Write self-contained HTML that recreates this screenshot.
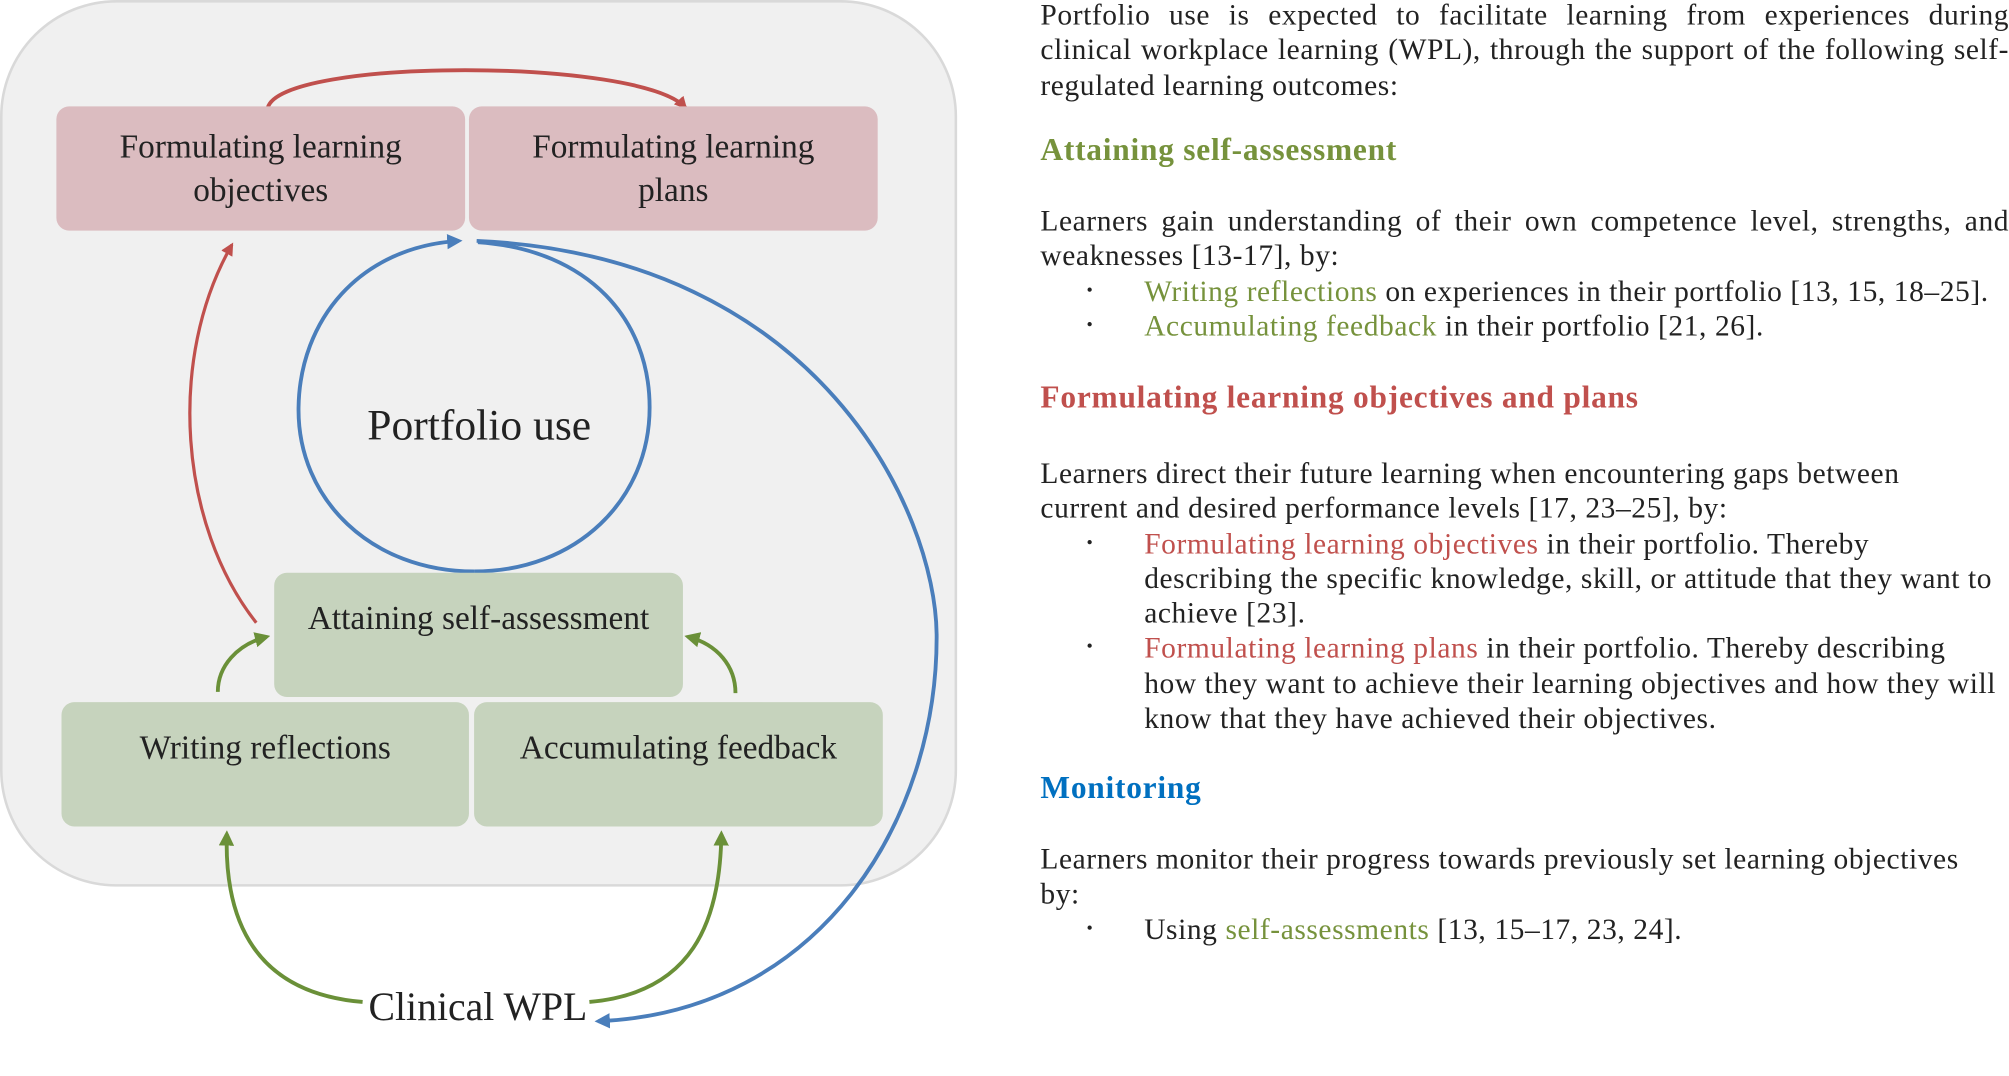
<!DOCTYPE html>
<html><head><meta charset="utf-8"><style>
html,body{margin:0;padding:0;background:#fff;width:2009px;height:1076px;overflow:hidden}
#w{position:absolute;left:0;top:0;width:1568px;height:840px;transform:scale(1.2813);transform-origin:0 0;font-family:"Liberation Serif",serif;color:#222}
.b{position:absolute;display:flex;align-items:center;justify-content:center;text-align:center;font-size:26px;line-height:34px;border-radius:10px}
.p{background:#dbbcc0}.g{background:#c6d3bd}
.t{position:absolute;left:812px;width:756px;font-size:23px;letter-spacing:0.45px;line-height:27.3px;white-space:nowrap}
.t div{height:27.3px}
.j{text-align:justify;text-align-last:justify}
h3{margin:0;font-size:24.5px;letter-spacing:0.6px;font-weight:bold}
.li{position:relative;padding-left:81px}
.li:before{content:"•";position:absolute;left:36px;font-size:14px}
.gr{color:#76923c}.rd{color:#c0504d}.bl{color:#0070c0}
</style></head><body><div id="w">
<svg width="1568" height="840" style="position:absolute;left:0;top:0">
<defs>
<marker id="ar" markerWidth="10" markerHeight="10" refX="8" refY="5" orient="auto" markerUnits="userSpaceOnUse"><path d="M0,0 L10,5 L0,10 Z" fill="#c0504d"/></marker>
<marker id="ab" markerWidth="12" markerHeight="12" refX="9" refY="6" orient="auto" markerUnits="userSpaceOnUse"><path d="M0,0 L12,6 L0,12 Z" fill="#4a7ebb"/></marker>
<marker id="ag" markerWidth="12" markerHeight="12" refX="9" refY="6" orient="auto" markerUnits="userSpaceOnUse"><path d="M0,0 L12,6 L0,12 Z" fill="#6a9038"/></marker>
</defs>
<rect x="1" y="1" width="745" height="690" rx="90" fill="#f0f0f0" stroke="#d9d9d9" stroke-width="2"/>
<path d="M209,84 C220,45 500,45 535,84" fill="none" stroke="#c0504d" stroke-width="3" marker-end="url(#ar)"/>
<path d="M200,486 C140,410 130,280 181,191" fill="none" stroke="#c0504d" stroke-width="2.5" marker-end="url(#ar)"/>
<path d="M370,446 C290,446 232,390 233,318 C234,250 280,193 358,188" fill="none" stroke="#4a7ebb" stroke-width="3" marker-end="url(#ab)"/>
<path d="M370,446 C450,446 507,390 507,318 C507,250 460,195 373,189" fill="none" stroke="#4a7ebb" stroke-width="3"/>
<path d="M372,188 C640,200 730,400 731,495 C732,640 640,790 467,797" fill="none" stroke="#4a7ebb" stroke-width="3" marker-end="url(#ab)"/>
<path d="M170,540 C170,520 185,503 208,497" fill="none" stroke="#6a9038" stroke-width="3" marker-end="url(#ag)"/>
<path d="M574,541 C574,520 560,503 537,497" fill="none" stroke="#6a9038" stroke-width="3" marker-end="url(#ag)"/>
<path d="M283,782 C200,775 175,720 177,651" fill="none" stroke="#6a9038" stroke-width="3" marker-end="url(#ag)"/>
<path d="M460,782 C540,775 562,720 563,651" fill="none" stroke="#6a9038" stroke-width="3" marker-end="url(#ag)"/>
</svg>
<div class="b p" style="left:44px;top:83px;width:319px;height:97px">Formulating learning<br>objectives</div>
<div class="b p" style="left:366px;top:83px;width:319px;height:97px">Formulating learning<br>plans</div>
<div class="b" style="left:240px;top:305px;width:268px;height:56px;font-size:34px">Portfolio use</div>
<div class="b g" style="left:214px;top:447px;width:319px;height:97px;align-items:flex-start;padding-top:19px;box-sizing:border-box">Attaining self-assessment</div>
<div class="b g" style="left:48px;top:548px;width:318px;height:97px;align-items:flex-start;padding-top:19px;box-sizing:border-box">Writing reflections</div>
<div class="b g" style="left:370px;top:548px;width:319px;height:97px;align-items:flex-start;padding-top:19px;box-sizing:border-box">Accumulating feedback</div>
<div class="b" style="left:273px;top:765px;width:200px;height:42px;font-size:31px">Clinical WPL</div>

<div class="t" style="top:-2px"><div class="j">Portfolio use is expected to facilitate learning from experiences during</div><div class="j">clinical workplace learning (WPL), through the support of the following self-</div><div>regulated learning outcomes:</div></div>
<div class="t gr" style="top:104px"><h3>Attaining self-assessment</h3></div>
<div class="t" style="top:159px"><div class="j">Learners gain understanding of their own competence level, strengths, and</div><div>weaknesses [13-17], by:</div>
<div class="li"><span class="gr">Writing reflections</span> on experiences in their portfolio [13, 15, 18–25].</div>
<div class="li"><span class="gr">Accumulating feedback</span> in their portfolio [21, 26].</div></div>
<div class="t rd" style="top:297px"><h3>Formulating learning objectives and plans</h3></div>
<div class="t" style="top:356px"><div>Learners direct their future learning when encountering gaps between</div><div>current and desired performance levels [17, 23–25], by:</div>
<div class="li"><span class="rd">Formulating learning objectives</span> in their portfolio. Thereby</div>
<div class="li" style="padding-left:81px"><span style="position:absolute;left:81px">describing the specific knowledge, skill, or attitude that they want to</span></div>
<div style="padding-left:81px">achieve [23].</div>
<div class="li"><span class="rd">Formulating learning plans</span> in their portfolio. Thereby describing</div>
<div style="padding-left:81px">how they want to achieve their learning objectives and how they will</div>
<div style="padding-left:81px">know that they have achieved their objectives.</div></div>
<div class="t bl" style="top:602px"><h3>Monitoring</h3></div>
<div class="t" style="top:657px"><div>Learners monitor their progress towards previously set learning objectives</div><div>by:</div>
<div class="li">Using <span class="gr">self-assessments</span> [13, 15–17, 23, 24].</div></div>
</div>
<style>.li>span[style*="absolute"]{top:0}.t .li:has(span[style*="absolute"])::before{content:""}</style>
</body></html>
